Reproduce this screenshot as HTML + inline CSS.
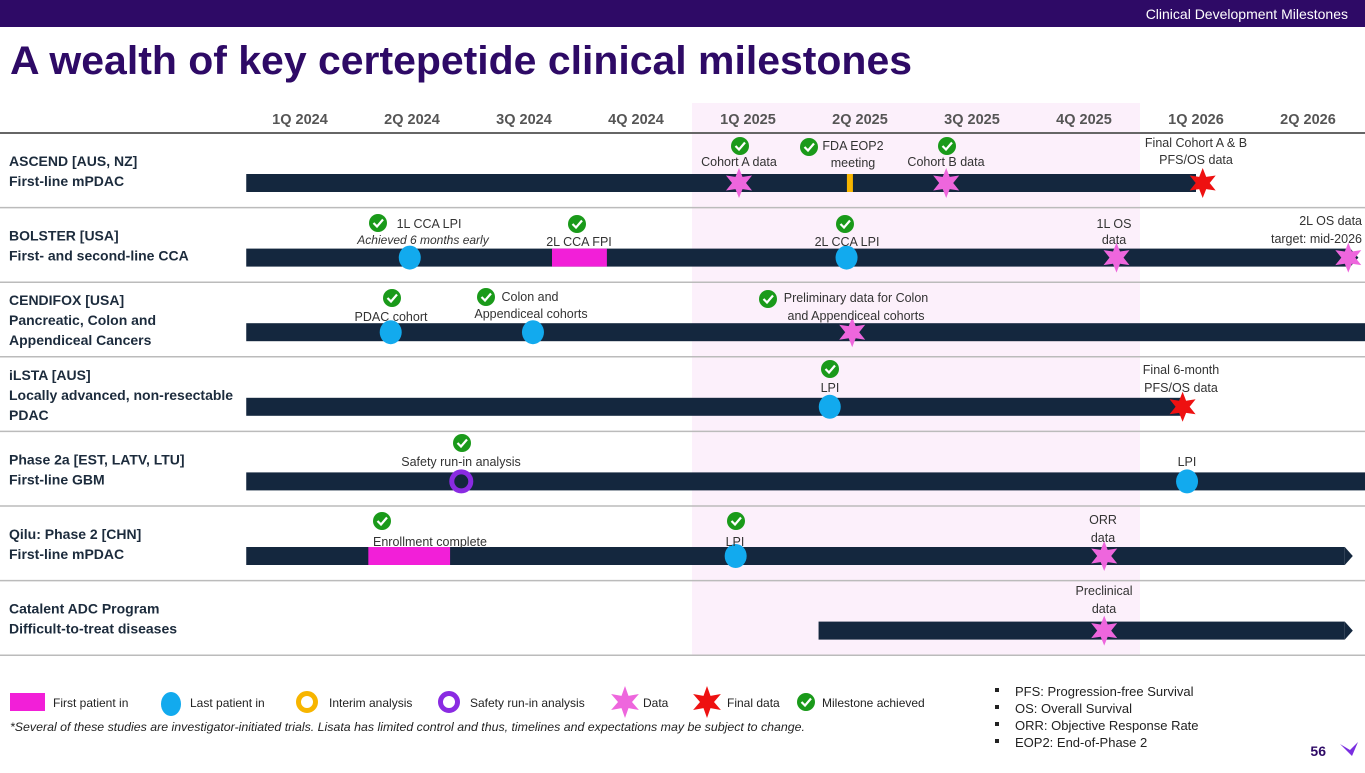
<!DOCTYPE html>
<html><head><meta charset="utf-8"><style>
body{margin:0;width:1365px;height:768px;overflow:hidden;background:#fff;font-family:"Liberation Sans",sans-serif;}
svg text{font-family:"Liberation Sans",sans-serif;}
</style></head><body>
<svg id="c" width="1365" height="768" viewBox="0 0 1365 768">
<rect x="0" y="0" width="1365" height="27" fill="#2e0a66"/>
<text x="1348" y="19" font-size="14" fill="#fff" text-anchor="end">Clinical Development Milestones</text>
<text x="10" y="74" font-size="40" font-weight="bold" fill="#2e0a66" textLength="902" lengthAdjust="spacingAndGlyphs">A wealth of key certepetide clinical milestones</text>
<rect x="692" y="103" width="448" height="552" fill="#fcf0fb"/>
<g id="axis"></g>
<g id="rows"></g>
<g id="marks"></g>
<g id="notes" font-size="12.5" fill="#333"></g>
<g id="legend" font-size="12" fill="#222"></g>
<text x="10" y="731" font-size="12" font-style="italic" fill="#222" textLength="795" lengthAdjust="spacingAndGlyphs">*Several of these studies are investigator-initiated trials. Lisata has limited control and thus, timelines and expectations may be subject to change.</text>
<g font-size="13" fill="#222">
<rect x="995" y="688" width="4" height="4" fill="#222"/><text x="1015" y="696">PFS: Progression-free Survival</text>
<rect x="995" y="705" width="4" height="4" fill="#222"/><text x="1015" y="713">OS: Overall Survival</text>
<rect x="995" y="722" width="4" height="4" fill="#222"/><text x="1015" y="730">ORR: Objective Response Rate</text>
<rect x="995" y="739" width="4" height="4" fill="#222"/><text x="1015" y="747">EOP2: End-of-Phase 2</text>
</g>
<text x="1326" y="756" font-size="14" font-weight="bold" fill="#2e0a66" text-anchor="end">56</text>
<path d="M1340 744 L1352 756 L1358 742 L1350 750 Z" fill="#7a2ee0"/>
</svg>
<script>
const quarters=["1Q 2024","2Q 2024","3Q 2024","4Q 2024","1Q 2025","2Q 2025","3Q 2025","4Q 2025","1Q 2026","2Q 2026"];
const trials=["ASCEND [AUS, NZ]|First-line mPDAC","BOLSTER [USA]|First- and second-line CCA","CENDIFOX [USA]|Pancreatic, Colon and|Appendiceal Cancers","iLSTA [AUS]|Locally advanced, non-resectable|PDAC","Phase 2a [EST, LATV, LTU]|First-line GBM","Qilu: Phase 2 [CHN]|First-line mPDAC","Catalent ADC Program|Difficult-to-treat diseases"];
const barStart=[0.02,0.02,0.02,0.02,0.02,0.02,5.13];
const barEnd=[8.5,9.95,10.2,8.4,10.2,9.9,9.9];
const barArrow=[0,1,0,0,0,1,1];
const fpiRow=[1,5];const fpiStart=[2.75,1.11];const fpiEnd=[3.24,1.84];
const lpiRow=[1,1,2,2,3,4,5];const lpiQ=[1.48,5.38,1.31,2.58,5.23,8.42,4.39];
const dataRow=[0,0,1,1,2,5,6];const dataQ=[4.42,6.27,7.79,9.86,5.43,7.68,7.68];
const finalRow=[0,3];const finalQ=[8.56,8.38];
const safetyRow=[4];const safetyQ=[1.94];
const interimRow=[0];const interimQ=[5.41];
const NS="http://www.w3.org/2000/svg";
const X0=244,QW=112,ROW0=133,RH=74.6;
const xq=q=>X0+QW*q;
const rowY=r=>ROW0+RH*r+50;
function mk(tag,attrs,parent){const e=document.createElementNS(NS,tag);for(const k in attrs)e.setAttribute(k,attrs[k]);document.getElementById(parent).appendChild(e);return e;}
function star(cx,cy,R,r){let p=[];for(let i=0;i<12;i++){const a=Math.PI/6*i-Math.PI/2;const rr=i%2?r:R;p.push((cx+rr*Math.cos(a)).toFixed(1)+","+(cy+rr*Math.sin(a)).toFixed(1));}return p.join(" ");}
quarters.forEach((q,i)=>{const t=mk("text",{x:xq(i+0.5),y:124,"font-size":14.5,"font-weight":"bold",fill:"#555","text-anchor":"middle"},"axis");t.textContent=q;

});
trials.forEach((s,r)=>{const y0=ROW0+RH*r;
const l=mk("line",{x1:0,x2:1365,y1:y0,y2:y0,stroke:r==0?"#666":"#bbb","stroke-width":r==0?2:1.5},"rows");


const lines=s.split("|");lines.forEach((ln,k)=>{const t=mk("text",{x:9,y:rowY(r)-17+k*20-(lines.length-2)*10,"font-size":14,"font-weight":"bold",fill:"#1c2b3c"},"rows");t.textContent=ln;

});
const y=rowY(r);const x1=xq(barStart[r]),x2=Math.min(xq(barEnd[r]),1365);
const b=mk("rect",{x:x1,y:y-9,width:x2-x1-(barArrow[r]?8:0),height:18,fill:"#14273e"},"rows");


if(barArrow[r]){const a=mk("polygon",{points:`${x2-8},${y-9} ${x2},${y} ${x2-8},${y+9}`,fill:"#14273e"},"rows");

}});
const yl=ROW0+RH*7;const l7=mk("line",{x1:0,x2:1365,y1:yl,y2:yl,stroke:"#bbb","stroke-width":1.5},"rows");


fpiRow.forEach((r,i)=>{const e=mk("rect",{x:xq(fpiStart[i]),y:rowY(r)-9,width:xq(fpiEnd[i])-xq(fpiStart[i]),height:18,fill:"#f21fd8"},"marks");

});
lpiRow.forEach((r,i)=>{const e=mk("ellipse",{cx:xq(lpiQ[i]),cy:rowY(r),rx:11,ry:12,fill:"#12aaee"},"marks");

});
interimRow.forEach((r,i)=>{const e=mk("rect",{x:xq(interimQ[i])-3,y:rowY(r)-9,width:6,height:18,fill:"#f7b500"},"marks");

});
safetyRow.forEach((r,i)=>{const e=mk("circle",{cx:xq(safetyQ[i]),cy:rowY(r),r:9.5,fill:"none",stroke:"#8a2be2","stroke-width":5},"marks");

});
dataRow.forEach((r,i)=>{const e=mk("polygon",{points:star(xq(dataQ[i]),rowY(r),15,7),fill:"#ee66dd"},"marks");

});
finalRow.forEach((r,i)=>{const e=mk("polygon",{points:star(xq(finalQ[i]),rowY(r),15,7),fill:"#ee1111"},"marks");

});
function check(cx,cy,parent){const g=mk("g",{},parent);


const c=document.createElementNS(NS,"circle");c.setAttribute("cx",cx);c.setAttribute("cy",cy);c.setAttribute("r",9);c.setAttribute("fill","#1a9a1a");g.appendChild(c);
const p=document.createElementNS(NS,"path");p.setAttribute("d",`M${cx-4.5} ${cy} L${cx-1} ${cy+3.5} L${cx+5} ${cy-3.5}`);p.setAttribute("stroke","#fff");p.setAttribute("stroke-width",2.2);p.setAttribute("fill","none");g.appendChild(p);}
const notes=[[739,166,"Cohort A data"],[853,150,"FDA EOP2"],[853,167,"meeting"],[946,166,"Cohort B data"],[1196,147,"Final Cohort A & B"],[1196,164,"PFS/OS data"],
[429,228,"1L CCA LPI"],[579,246,"2L CCA FPI"],[847,246,"2L CCA LPI"],[1114,228,"1L OS"],[1114,244,"data"],
[391,321,"PDAC cohort"],[530,301,"Colon and"],[531,318,"Appendiceal cohorts"],[856,302,"Preliminary data for Colon"],[856,320,"and Appendiceal cohorts"],
[830,392,"LPI"],[1181,374,"Final 6-month"],[1181,392,"PFS/OS data"],[461,466,"Safety run-in analysis"],[1187,466,"LPI"],
[430,546,"Enrollment complete"],[735,546,"LPI"],[1103,524,"ORR"],[1103,542,"data"],[1104,595,"Preclinical"],[1104,613,"data"]];
notes.forEach(n=>{const t=mk("text",{x:n[0],y:n[1],"text-anchor":"middle"},"notes");t.textContent=n[2];

});
[[1362,225,"2L OS data"],[1362,243,"target: mid-2026"]].forEach(n=>{const t=mk("text",{x:n[0],y:n[1],"text-anchor":"end"},"notes");t.textContent=n[2];

});
const it=mk("text",{x:423,y:244,"text-anchor":"middle","font-style":"italic","font-size":12},"notes");it.textContent="Achieved 6 months early";


[[740,146],[809,147],[947,146],[378,223],[577,224],[845,224],[392,298],[486,297],[768,299],[830,369],[462,443],[382,521],[736,521]].forEach(c=>check(c[0],c[1],"marks"));
const ly=702;
const lgItems=[[53,"First patient in"],[190,"Last patient in"],[329,"Interim analysis"],[470,"Safety run-in analysis"],[643,"Data"],[727,"Final data"],[822,"Milestone achieved"]];
lgItems.forEach(it=>{const t=mk("text",{x:it[0],y:ly+5},"legend");t.textContent=it[1];

});
let e;
e=mk("rect",{x:10,y:ly-9,width:35,height:18,fill:"#f21fd8"},"legend");
e=mk("ellipse",{cx:171,cy:ly+2,rx:10,ry:12,fill:"#12aaee"},"legend");
e=mk("circle",{cx:307,cy:ly,r:8.5,fill:"none",stroke:"#f7b500","stroke-width":5},"legend");
e=mk("circle",{cx:449,cy:ly,r:8.5,fill:"none",stroke:"#8a2be2","stroke-width":5},"legend");
e=mk("polygon",{points:star(625,ly,16,7),fill:"#ee66dd"},"legend");
e=mk("polygon",{points:star(707,ly,16,7),fill:"#ee1111"},"legend");
check(806,ly,"legend");
</script>
</body></html>
